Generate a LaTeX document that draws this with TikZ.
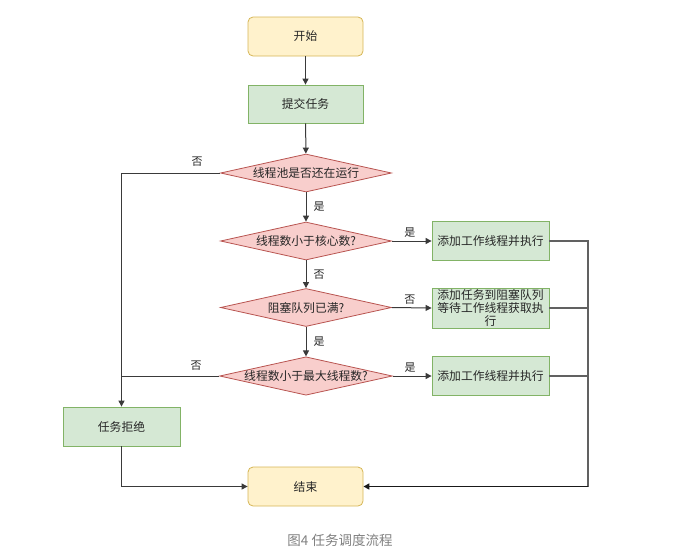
\documentclass[tikz,border=0pt]{standalone}
\usepackage{fontspec}
\setmainfont{Noto Sans CJK SC}
\usetikzlibrary{shapes.geometric,arrows.meta}
\definecolor{yfill}{HTML}{FFF2CC}\definecolor{ydraw}{HTML}{D6B656}
\definecolor{gfill}{HTML}{D5E8D4}\definecolor{gdraw}{HTML}{82B366}
\definecolor{rfill}{HTML}{F8CECC}\definecolor{rdraw}{HTML}{B85450}
\definecolor{lineclr}{HTML}{3A3A3A}
\tikzset{
  base/.style={font=\fontsize{11.8}{13}\selectfont, text=black!85, line width=0.8pt, inner sep=0pt},
  termbox/.style={base, rectangle, rounded corners=5pt, fill=yfill, draw=ydraw, minimum width=115pt, minimum height=39pt},
  procbox/.style={base, rectangle, fill=gfill, draw=gdraw, minimum width=117pt, minimum height=39pt},
  decbox/.style={base, diamond, aspect=4.5, fill=rfill, draw=rdraw, minimum width=171pt, minimum height=38pt},
  conn/.style={draw=lineclr, line width=1pt},
  arr/.style={conn, -{Triangle[width=6pt,length=6pt]}},
  rconn/.style={draw=black!62, line width=1.2pt},
  lbl/.style={font=\fontsize{11}{12}\selectfont, text=black!85, inner sep=1pt}
}
\begin{document}
\begin{tikzpicture}[x=1pt,y=-1pt]
\useasboundingbox (0,0) rectangle (700,555);
\node[termbox] (start) at (305.5,36.5) {开始};
\node[procbox, minimum width=115pt, minimum height=38pt] (submit) at (305.5,104) {提交任务};
\node[decbox] (d1) at (306,173) {线程池是否还在运行};
\node[decbox] (d2) at (306,241) {线程数小于核心数?};
\node[decbox] (d3) at (306,307.5) {阻塞队列已满?};
\node[decbox] (d4) at (306,376) {线程数小于最大线程数?};
\node[procbox] (b1) at (490.5,241) {添加工作线程并执行};
\node[procbox, minimum height=40pt, align=center, font=\fontsize{11.8}{12.6}\selectfont] (b2) at (490.5,308) {添加任务到阻塞队列\\等待工作线程获取执\\行};
\node[procbox] (b3) at (490.5,376) {添加工作线程并执行};
\node[procbox, minimum width=117pt] (rej) at (121.5,426.5) {任务拒绝};
\node[termbox] (end) at (305.5,486.5) {结束};
\coordinate (rbot) at (588,486.5);

\draw[arr] (start) -- (submit);
\draw[arr] (submit) -- (d1);
\draw[arr] (d1) -- node[lbl, right=6pt, pos=0.5] {是} (d2);
\draw[arr] (d2) -- node[lbl, right=6pt, pos=0.5] {否} (d3);
\draw[arr] (d3) -- node[lbl, right=6pt, pos=0.5] {是} (d4);
\draw[arr] (d1.west) -| (rej.north);
\node[lbl] at (197,162) {否};
\draw[conn] (d4.west) -- (rej.north |- d4.west);
\node[lbl] at (196,366) {否};
\draw[arr] (d2.east) -- node[lbl, above=2pt, pos=0.45] {是} (b1.west);
\draw[arr] (d3.east) -- node[lbl, above=2pt, pos=0.45] {否} (b2.west);
\draw[arr] (d4.east) -- node[lbl, above=2pt, pos=0.45] {是} (b3.west);
\draw[rconn] (b1.east) -| (rbot);
\draw[rconn] (b2.east) -- (rbot |- b2.east);
\draw[rconn] (b3.east) -- (rbot |- b3.east);
\draw[arr, line width=1.6pt, draw=black!90] (rbot) -- (end.east);
\draw[arr] (rej.south) |- (end.west);
\node[font=\fontsize{13.5}{15}\selectfont, text=black!50, inner sep=0pt] (cap) at (340,540) {图4 任务调度流程};
\end{tikzpicture}
\end{document}
